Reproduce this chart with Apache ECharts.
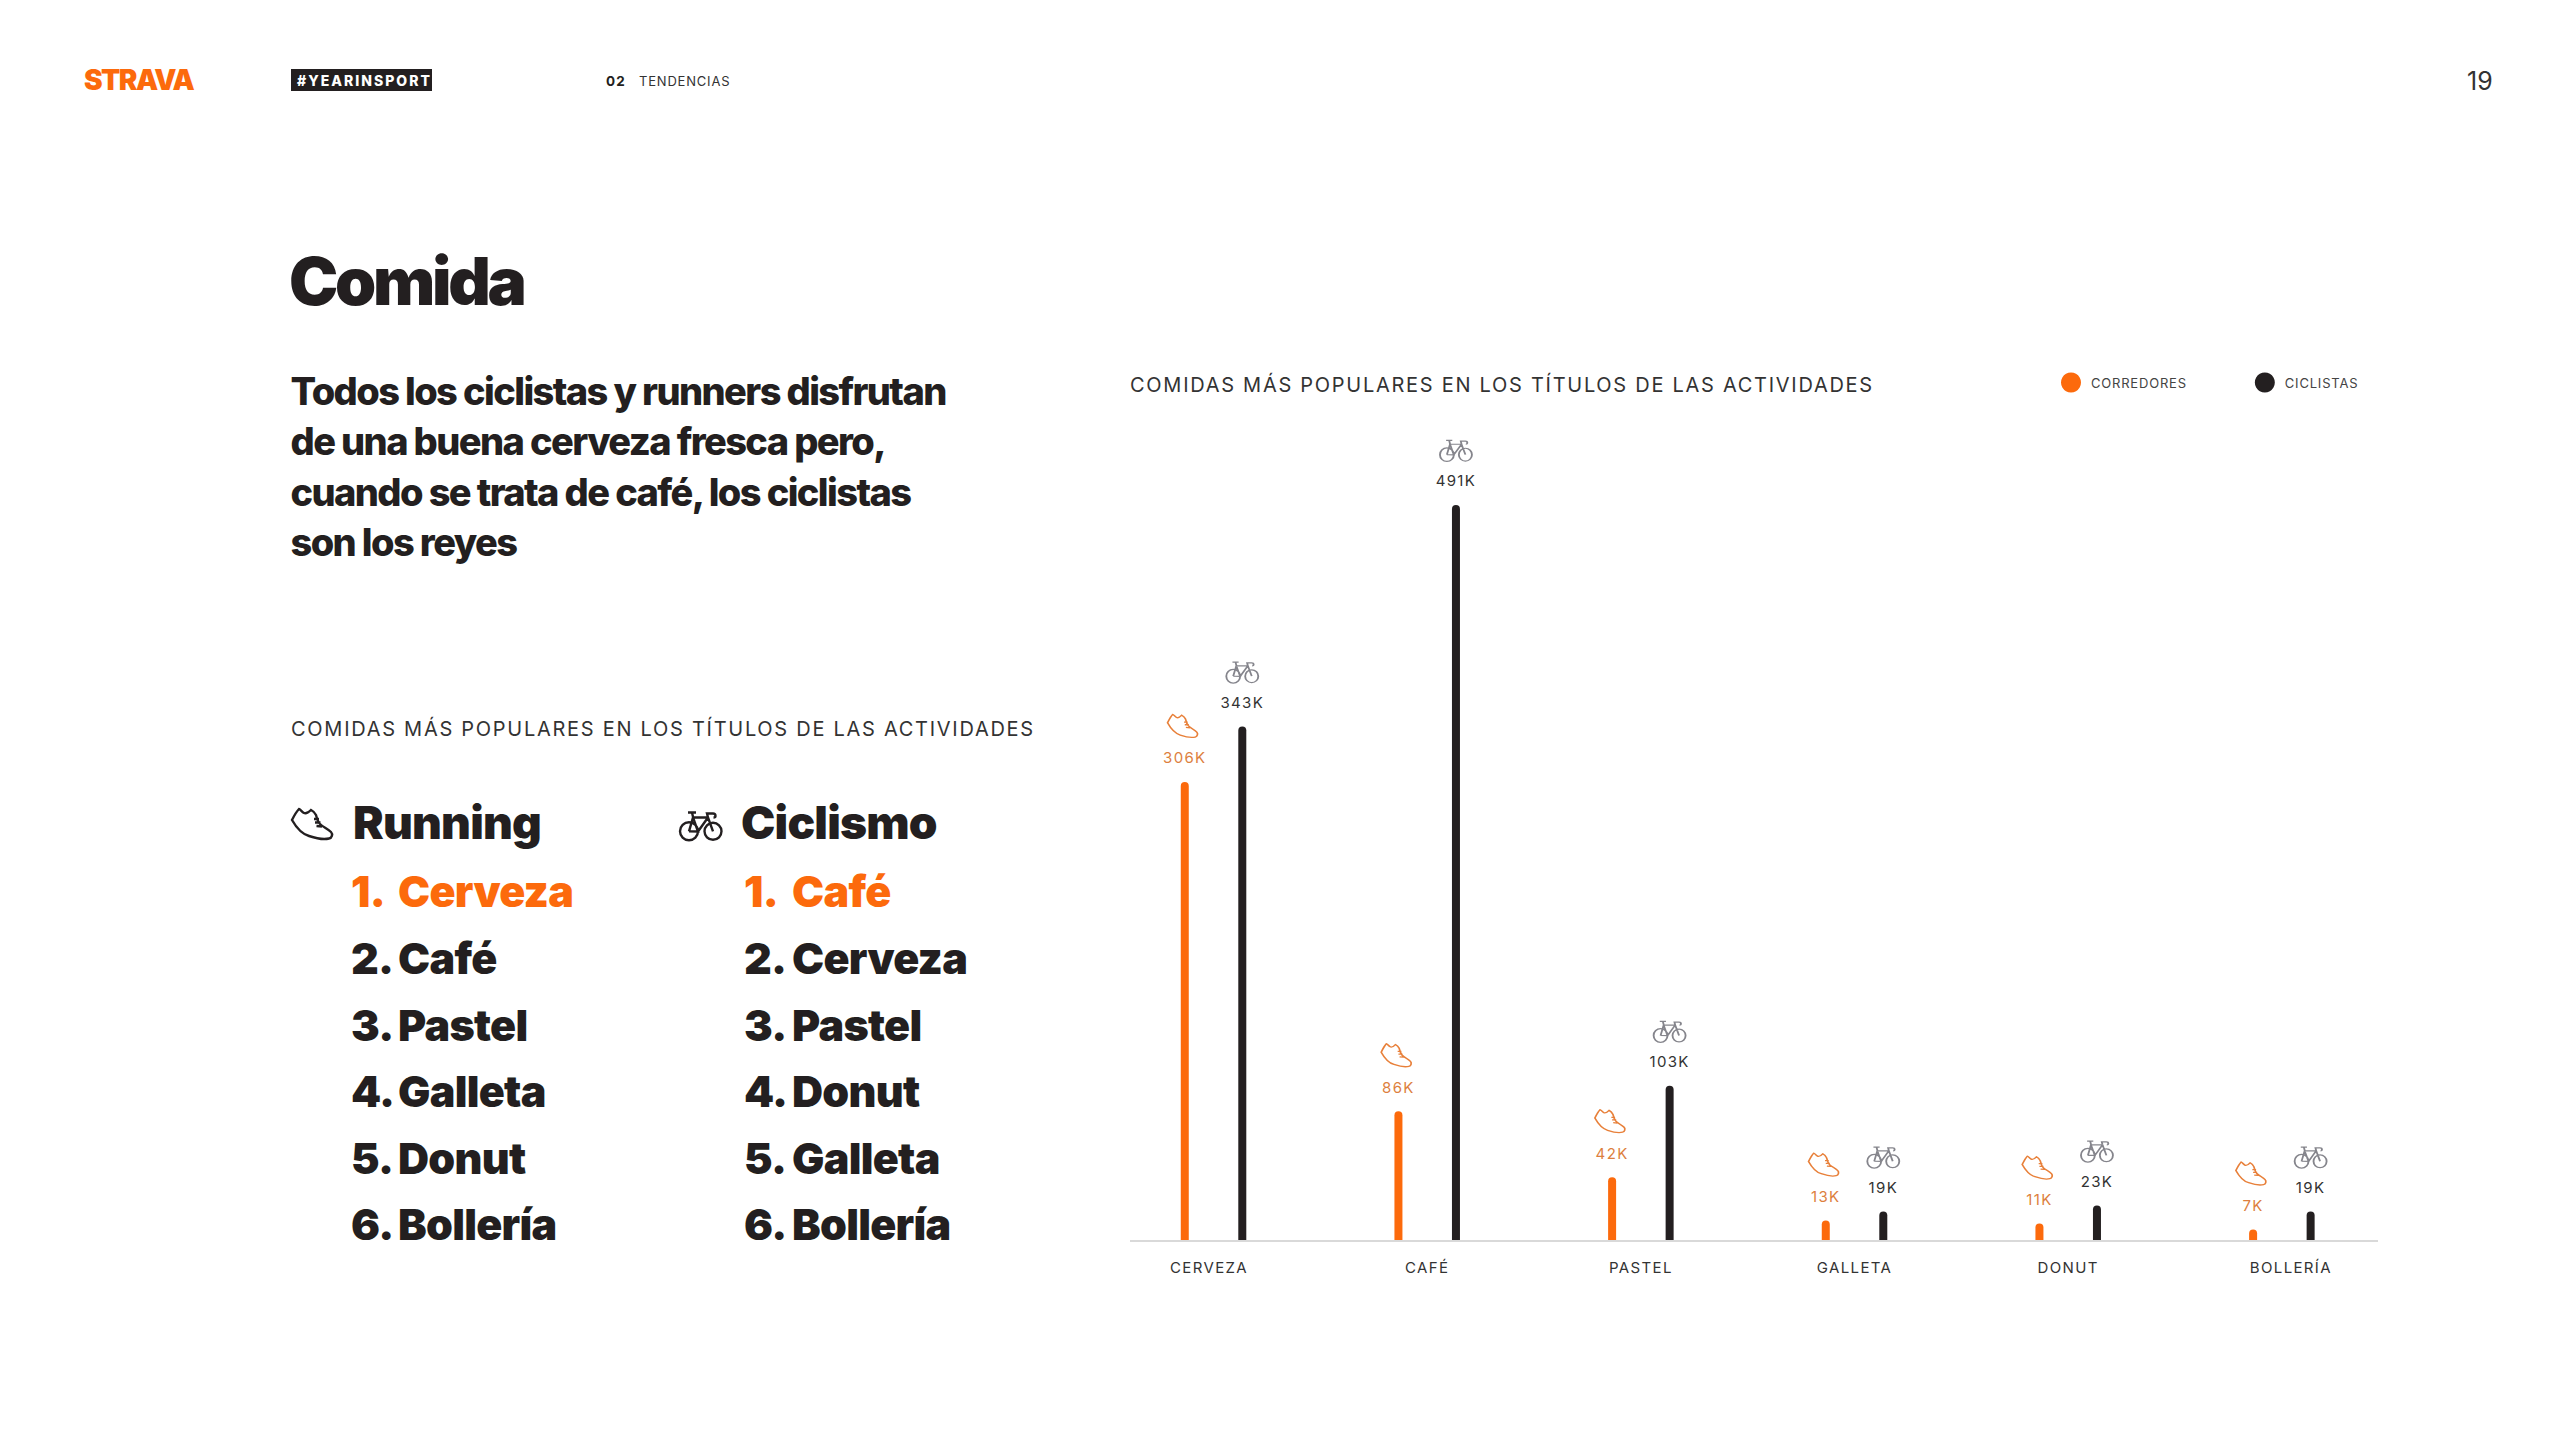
<!DOCTYPE html>
<html><head><meta charset="utf-8">
<script src="https://cdn.jsdelivr.net/npm/echarts@6/dist/echarts.min.js"></script>
<style>
html,body{margin:0;padding:0;background:#fff}
#c{width:2560px;height:1440px}
text[style*="66px"]{letter-spacing:-3.3px}
text[style*="38px"]{letter-spacing:-1.6px}
text[style*="46px"]{letter-spacing:-.8px}
text[style*="43px"]{letter-spacing:-.7px}
text[style*="20px"]{letter-spacing:1.72px}
text[style*="15px"]{letter-spacing:1.35px}
text[style*="13.5px"]{letter-spacing:1.2px}
text[style*="13px"]{letter-spacing:.8px}
text[style*="14px"]{letter-spacing:2px}
text[style*="28px"]{letter-spacing:-1.55px}
</style></head><body><div id="c"></div>
<script>
const categories=['CERVEZA','CAFÉ','PASTEL','GALLETA','DONUT','BOLLERÍA'];
const corredores=[306,86,42,13,11,7];
const ciclistas=[343,491,103,19,23,19];
const seriesNames=['CORREDORES','CICLISTAS'];
const chartTitle='COMIDAS MÁS POPULARES EN LOS TÍTULOS DE LAS ACTIVIDADES';
const headline=['Todos los ciclistas y runners disfrutan','de una buena cerveza fresca pero,','cuando se trata de café, los ciclistas','son los reyes'];
const runningRank=['Cerveza','Café','Pastel','Galleta','Donut','Bollería'];
const cyclingRank=['Café','Cerveza','Pastel','Donut','Galleta','Bollería'];

const ORANGE='#fc6a0c',DARK='#231f20',FONT='Inter';
const BIKE_D='M18 19.3A9 9 0 1 1 0 19.3A9 9 0 1 1 18 19.3M41.5 19.3A8.5 8.5 0 1 1 24.5 19.3A8.5 8.5 0 1 1 41.5 19.3M9 19.3L13 5.5L28 5.5L33 19.3M13 5.5L18 19.5L9 19.3M18 19.5L28 5.5M8 .5L16 .5M12 .5L13.5 7M28 5.5L27 1.5L33 1.5Q35.5 1.5 35.5 4Q35.5 5.5 33.5 5.5';
const SHOE_D='M1 12C3 8 6 3 8 1C9 1 11 4 13 5C15 6 18 4 20 2C22 3 24 5 25 7C26 11 27 14 29 16C32 19 37 21 40 24C42 26 41 30 38 30.5C32 32 24 30 18 28C11 26 5 19 1 12ZM23 11L28 11M24 14.5L29.5 14.5M25.5 18L31 18.5';
echarts.graphic.registerShape('bikeIcon',echarts.graphic.extendPath(BIKE_D,{}));
echarts.graphic.registerShape('shoeIcon',echarts.graphic.extendPath(SHOE_D,{}));

const T=(text,x,y,size,weight,fill,align)=>({type:'text',x,y,silent:true,style:{text,fontSize:size,fontWeight:weight,fontFamily:FONT,fill,textAlign:align||'left',textVerticalAlign:'middle'}});
const P=(type,x,y,stroke,lw)=>({type,silent:true,x,y,shape:{},style:{fill:'none',stroke,lineWidth:lw}});

const rowY=[890.5,957.5,1024.5,1090.5,1157.5,1223.5];
const page=[
 T('STRAVA',84,80,28,900,ORANGE),
 {type:'rect',silent:true,shape:{x:291,y:69,width:141,height:22},style:{fill:DARK}},
 T('#YEARINSPORT',297,80.5,14,800,'#fff'),
 T('02',606,81,13.5,700,DARK),
 T('TENDENCIAS',639,81,13,400,'#333'),
 T('19',2467,81,25,400,'#333'),
 T('Comida',289,281,66,900,DARK),
 ...headline.map((s,i)=>T(s,290.5,390.5+i*50.6,38,800,DARK)),
 T(chartTitle,291,729,20,400,'#333'),
 T(chartTitle,1130,385,20,400,'#333'),
 P('shoeIcon',291,808,DARK,2.4),
 T('Running',353,821.5,46,900,DARK),
 P('bikeIcon',680,812,DARK,2.4),
 T('Ciclismo',741,821.5,46,900,DARK),
 ...runningRank.map((s,i)=>T((i+1)+'.',351,rowY[i],43,900,i?DARK:ORANGE)),
 ...runningRank.map((s,i)=>T(s,398,rowY[i],43,900,i?DARK:ORANGE)),
 ...cyclingRank.map((s,i)=>T((i+1)+'.',744,rowY[i],43,900,i?DARK:ORANGE)),
 ...cyclingRank.map((s,i)=>T(s,792,rowY[i],43,900,i?DARK:ORANGE)),
 {type:'line',silent:true,shape:{x1:1130,y1:1241,x2:2378,y2:1241},style:{stroke:'#d9d9d9',lineWidth:2}}
];

const bar=(name,data,color,labelColor)=>({name,type:'bar',data,barWidth:8,barGap:'619%',itemStyle:{color,borderRadius:[4,4,0,0]},
  label:{show:true,position:'top',distance:16.5,formatter:'{c}K',fontFamily:FONT,fontSize:15,color:labelColor}});
const icon=(name,data,sym,w,h,color,dx,dy)=>({name,type:'scatter',data,symbol:'path://'+sym,symbolSize:[w,h],symbolOffset:[dx,dy],
  itemStyle:{color:'rgba(0,0,0,0)',borderColor:color,borderWidth:1.5,opacity:1},z:5,silent:true});

const labelNudge={CERVEZA:[0,9,0,0],'BOLLERÍA':[0,0,0,18]};
const chart=echarts.init(document.getElementById('c'),null,{renderer:'svg',width:2560,height:1440});
chart.setOption({
 animation:false,backgroundColor:'#fff',
 grid:{left:1106.7,width:1282,top:491.5,height:748.5},
 xAxis:{type:'category',data:categories.map(v=>labelNudge[v]?{value:v,textStyle:{padding:labelNudge[v]}}:v),axisLine:{show:false},axisTick:{show:false},
   axisLabel:{fontFamily:FONT,fontSize:15,color:'#333',margin:20}},
 yAxis:{type:'value',min:0,max:500,show:false,splitLine:{show:false}},
 legend:{data:seriesNames,left:2056,top:367.5,icon:'circle',itemWidth:20,itemHeight:20,itemGap:76,
   textStyle:{fontFamily:FONT,fontSize:13,color:'#444',padding:[0,0,0,5]}},
 series:[
  bar(seriesNames[0],corredores,ORANGE,'#dd7f3e'),
  bar(seriesNames[1],ciclistas,DARK,'#333'),
  icon('icono corredores',corredores,SHOE_D,30,23,'#e8803a',-31,-56),
  icon('icono ciclistas',ciclistas,BIKE_D,32,21,'#85858c',28.75,-54)
 ],
 graphic:page
});
</script></body></html>
